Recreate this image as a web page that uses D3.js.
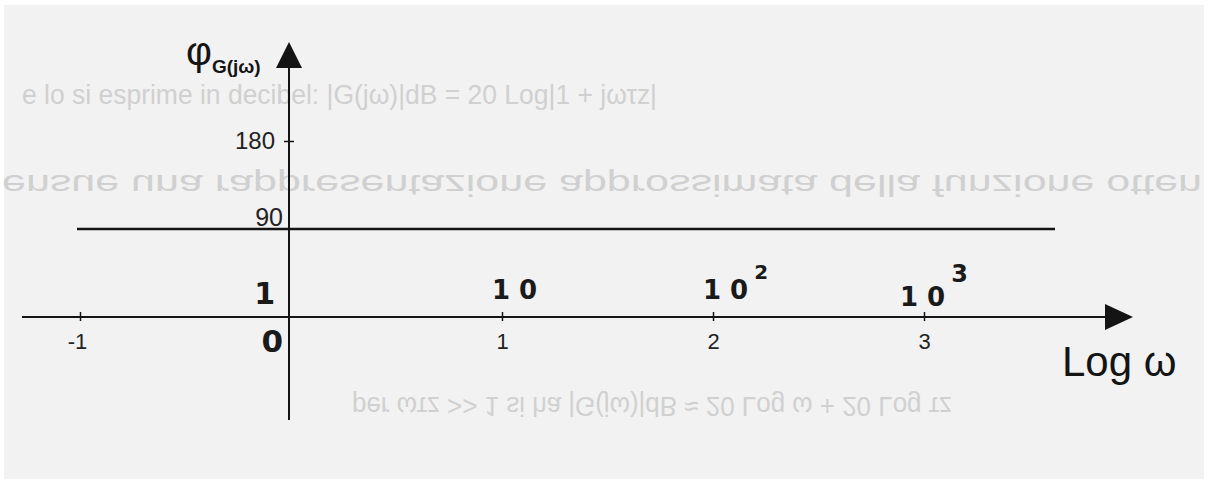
<!DOCTYPE html>
<html>
<head>
<meta charset="utf-8">
<script src="https://cdn.jsdelivr.net/npm/d3@7"></script>
<style>
  html, body { margin: 0; padding: 0; background: #ffffff; }
  svg { display: block; }
</style>
</head>
<body>
<div id="chart"></div>
<script>
// data
var xTicks = [-1, 1, 2, 3];
var yTicks = [180];
var refLevel = [90];
var handLabels = [
  {v: 1, base: "10", sup: ""},
  {v: 2, base: "10", sup: "2"},
  {v: 3, base: "10", sup: "3"}
];
var originTop = "1";     // handwritten above axis at log w = 0
var originBottom = "0";  // handwritten tick label for 0
var yTitle = "φ";
var yTitleSub = "G(jω)";
var xTitle = "Log ω";

// faint show-through text from the scanned page
var ghostLines = [
  {t: "e lo si esprime in decibel:  |G(jω)|dB = 20 Log|1 + jωτz|", flip: false},
  {t: "ensue una rappresentazione approssimata della funzione otten", flip: true},
  {t: "per ωτz >> 1 si ha |G(jω)|dB ≈ 20 Log ω + 20 Log τz", flip: true}
];

var W = 1208, H = 479;
var ink = "#141414";

var svg = d3.select("#chart").append("svg")
  .attr("width", W).attr("height", H);

svg.append("rect")
  .attr("x", 4).attr("y", 5)
  .attr("width", W - 8).attr("height", H - 5)
  .attr("fill", "#f2f2f2");

// show-through, [x, baseline, size, width]
var ghost = svg.append("g")
  .style("font-family", "'Liberation Sans', Arial, sans-serif")
  .attr("fill", "#d0d0d0");
var ghostPos = [[22, 104, 27, 635], [2, 175, 30, 1200], [352, 397, 28, 600]];
ghostLines.forEach(function(d, i) {
  var p = ghostPos[i];
  ghost.append("text")
    .attr("transform", "translate(" + p[0] + "," + p[1] + ")" + (d.flip ? " scale(1,-1)" : ""))
    .attr("textLength", p[3])
    .attr("lengthAdjust", "spacingAndGlyphs")
    .style("font-size", p[2] + "px")
    .text(d.t);
});

var x = d3.scaleLinear().domain([-1, 3]).range([80, 924]);
var y = d3.scaleLinear().domain([0, 180]).range([317, 141]);

var g = svg.append("g");

// horizontal reference line at 90
g.selectAll(".ref")
  .data(refLevel)
  .enter().append("line")
  .attr("x1", 77).attr("x2", 1055)
  .attr("y1", function(d) { return y(d); })
  .attr("y2", function(d) { return y(d); })
  .attr("stroke", ink).attr("stroke-width", 2.6);

// x axis
g.append("line")
  .attr("x1", 22).attr("x2", 1110)
  .attr("y1", y(0)).attr("y2", y(0))
  .attr("stroke", ink).attr("stroke-width", 2);
g.append("path")
  .attr("d", "M1105," + (y(0) - 13) + "L1133," + y(0) + "L1105," + (y(0) + 13) + "Z")
  .attr("fill", ink);

// y axis
g.append("line")
  .attr("x1", x(0) - 2).attr("x2", x(0) - 2)
  .attr("y1", 420).attr("y2", 62)
  .attr("stroke", ink).attr("stroke-width", 2);
g.append("path")
  .attr("d", "M" + (x(0) - 15) + ",68L" + (x(0) - 2) + ",42L" + (x(0) + 11) + ",68Z")
  .attr("fill", ink);

var xAxis = d3.axisBottom(x).tickValues(xTicks).tickSize(4).tickPadding(12)
  .tickFormat(function(d) { return String(d); });
var xa = g.append("g").attr("transform", "translate(0," + y(0) + ")").call(xAxis);
xa.select(".domain").remove();
xa.selectAll(".tick line").attr("y1", -5).attr("y2", 4)
  .attr("stroke", ink).attr("stroke-width", 1.5);
xa.selectAll(".tick text")
  .attr("fill", "#222")
  .attr("dx", function(d) { return d < 0 ? -3 : 0; })
  .style("font-family", "'Liberation Sans', Arial, sans-serif")
  .style("font-size", "22px");

var yAxis = d3.axisLeft(y).tickValues(yTicks).tickSize(5).tickPadding(9);
var ya = g.append("g").attr("transform", "translate(" + (x(0) - 2) + ",0)").call(yAxis);
ya.select(".domain").remove();
ya.selectAll(".tick line").attr("x2", 5).attr("x1", -5)
  .attr("stroke", ink).attr("stroke-width", 1.5);
ya.selectAll(".tick text")
  .attr("fill", "#222")
  .style("font-family", "'Liberation Sans', Arial, sans-serif")
  .style("font-size", "24px");

// label for the 90 line
g.selectAll(".reflabel")
  .data(refLevel)
  .enter().append("text")
  .attr("x", x(0) - 8)
  .attr("y", function(d) { return y(d) - 3; })
  .attr("text-anchor", "end")
  .attr("fill", "#222")
  .style("font-family", "'Liberation Sans', Arial, sans-serif")
  .style("font-size", "25px")
  .text(function(d) { return d; });

// axis titles
var yt = g.append("text")
  .attr("x", 186).attr("y", 65)
  .attr("fill", ink)
  .style("font-family", "'Liberation Sans', Arial, sans-serif");
yt.append("tspan").style("font-size", "40px").text(yTitle);
yt.append("tspan").attr("dy", 8).style("font-size", "19px").style("font-weight", "bold").text(yTitleSub);

g.append("text")
  .attr("x", 1062).attr("y", 376)
  .attr("fill", ink)
  .style("font-family", "'Liberation Sans', Arial, sans-serif")
  .style("font-size", "42px")
  .text(xTitle);

// handwritten powers of ten
var hand = g.append("g")
  .attr("fill", "#1a1a1a")
  .style("font-family", "'DejaVu Sans', sans-serif")
  .style("font-weight", "bold");

hand.append("text")
  .attr("x", x(0) - 16).attr("y", 304)
  .attr("text-anchor", "end")
  .style("font-size", "30px")
  .text(originTop);
hand.append("text")
  .attr("x", x(0) - 8).attr("y", 352)
  .attr("text-anchor", "end")
  .style("font-size", "31px")
  .text(originBottom);

var hl = hand.selectAll(".hl")
  .data(handLabels)
  .enter().append("text")
  .attr("x", function(d, i) { return x(d.v) - (i === 2 ? 24 : 10); })
  .attr("y", function(d, i) { return i === 2 ? 306 : 299; })
  .style("font-size", "26px")
  .style("letter-spacing", "9px");
hl.append("tspan").text(function(d) { return d.base; });
hl.append("tspan")
  .attr("dx", -3)
  .attr("dy", function(d, i) { return i === 2 ? -24 : -20; })
  .style("font-size", function(d, i) { return i === 2 ? "24px" : "20px"; })
  .text(function(d) { return d.sup; });
</script>
</body>
</html>
